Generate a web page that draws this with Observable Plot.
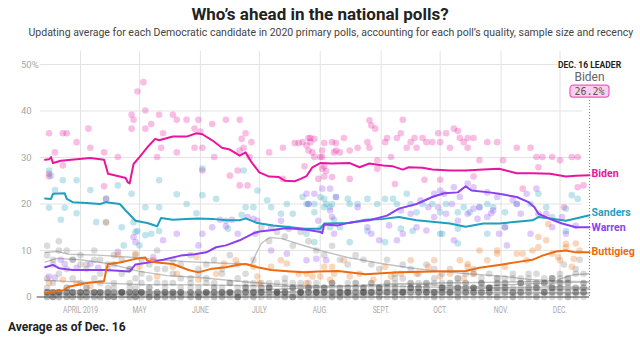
<!DOCTYPE html>
<html><head><meta charset="utf-8">
<script src="https://cdn.jsdelivr.net/npm/d3@7"></script>
<script src="https://cdn.jsdelivr.net/npm/@observablehq/plot@0.6"></script>
<style>
body{margin:0;background:#fff;}
#wrap{position:relative;width:640px;height:337px;overflow:hidden;font-family:Roboto,"Liberation Sans",sans-serif;}
#title{position:absolute;left:0;width:640px;top:3px;text-align:center;font-weight:700;font-size:17px;line-height:22px;color:#222;white-space:nowrap;}
#sub{position:absolute;left:0;width:640px;top:25px;text-align:center;font-size:11.5px;line-height:14px;color:#444;white-space:nowrap;}
#sub span,#title span{display:inline-block;transform-origin:50% 50%;}
#chart{position:absolute;left:0;top:42px;}
#cap{position:absolute;left:8px;top:319px;font-weight:700;font-size:12px;line-height:16px;color:#222;white-space:nowrap;}
</style></head>
<body><div id="wrap">
<div id="title"><span>Who’s ahead in the national polls?</span></div>
<div id="sub"><span>Updating average for each Democratic candidate in 2020 primary polls, accounting for each poll’s quality, sample size and recency</span></div>
<div id="chart"></div>
<div id="cap">Average as of Dec. 16</div>
</div>
<script>
// ---------- DATA ----------
const monthTicks = ["04-01","05-01","06-01","07-01","08-01","09-01","10-01","11-01","12-01"];
const monthLabels = ["APRIL 2019","MAY","JUNE","JULY","AUG.","SEPT.","OCT.","NOV.","DEC."];
const yTicks = [0,10,20,30,40,50];

const candidates = ["Biden","Sanders","Warren","Buttigieg"];
const colors = ["#e8159f","#1f9fbf","#8b3ff2","#ee6a0f"];
const labelNudge = [0, -1, 1, 0];

const bidenAvg = [["03-14",29.5],["03-16",29.6],["03-17",30.1],["03-18",28.8],["03-22",29.3],["03-30",29.6],["04-06",29.9],["04-13",29.5],["04-15",26.5],["04-21",25.9],["04-24",25.6],["04-25",24.7],["04-26",24.4],["04-28",28.6],["05-01",30.1],["05-05",32.2],["05-09",34.0],["05-11",33.7],["05-18",34.5],["05-25",34.5],["05-30",35.2],["06-02",35.0],["06-07",33.7],["06-12",32.1],["06-16",31.7],["06-21",30.4],["06-24",31.1],["06-27",29.0],["07-01",26.8],["07-06",25.9],["07-11",25.8],["07-14",25.0],["07-19",24.9],["07-22",25.4],["07-25",26.0],["07-28",27.9],["08-01",28.8],["08-07",28.7],["08-16",28.8],["08-21",27.9],["08-26",28.7],["09-02",28.3],["09-07",28.1],["09-12",27.4],["09-15",27.9],["09-22",27.8],["09-27",27.4],["10-06",27.2],["10-14",27.2],["10-23",27.4],["10-31",27.6],["11-09",26.6],["11-17",26.6],["11-26",26.5],["12-04",25.9],["12-09",26.1],["12-16",26.2]];
const sandersAvg = [["03-14",21.2],["03-17",21.1],["03-18",22.2],["03-24",22.3],["03-25",21.1],["03-28",20.4],["04-04",20.2],["04-11",20.0],["04-14",20.4],["04-21",20.0],["04-24",18.6],["04-29",16.4],["05-05",15.9],["05-10",15.2],["05-12",17.0],["05-18",16.6],["05-25",16.8],["05-31",16.9],["06-07",16.8],["06-14",16.5],["06-21",16.5],["06-24",16.9],["06-30",15.9],["07-08",15.4],["07-17",15.0],["07-24",14.7],["08-01",14.7],["08-03",15.8],["08-16",15.9],["08-24",16.6],["09-02",16.8],["09-10",17.2],["09-19",16.5],["09-27",16.2],["10-06",15.8],["10-14",15.1],["10-23",15.8],["10-31",15.8],["11-09",16.2],["11-17",16.5],["11-20",17.2],["11-26",16.9],["12-04",16.4],["12-09",16.9],["12-16",17.6]];
const warrenAvg = [["03-14",6.4],["03-18",6.9],["03-21",6.2],["03-28",5.8],["04-14",5.8],["04-26",5.5],["04-29",7.0],["05-07",7.5],["05-13",8.0],["05-22",8.9],["05-29",9.2],["06-04",9.6],["06-09",10.7],["06-14",11.1],["06-21",12.2],["06-28",13.7],["07-01",14.1],["07-08",14.4],["07-14",14.8],["07-19",14.7],["07-26",14.4],["08-01",14.0],["08-02",13.7],["08-03",15.6],["08-10",15.4],["08-16",16.0],["08-26",16.5],["09-04",17.5],["09-10",19.0],["09-19",20.0],["09-27",21.5],["10-03",22.3],["10-10",22.5],["10-14",23.8],["10-17",22.9],["10-26",22.5],["10-31",22.2],["11-09",21.5],["11-15",20.4],["11-18",19.3],["11-20",17.9],["11-27",16.6],["12-02",15.8],["12-09",15.0],["12-16",15.0]];
const buttigiegAvg = [["03-14",0.8],["03-20",1.3],["03-23",1.4],["03-26",2.2],["04-03",2.9],["04-06",3.1],["04-13",3.4],["04-14",5.7],["04-15",7.1],["04-21",7.4],["04-29",8.2],["05-04",8.5],["05-05",7.8],["05-10",7.4],["05-18",7.1],["05-26",5.8],["05-31",5.3],["06-07",6.1],["06-14",6.4],["06-21",7.0],["06-24",7.1],["06-30",6.4],["07-07",5.8],["07-17",5.5],["07-24",5.3],["07-31",5.5],["08-10",5.6],["08-24",4.9],["09-10",5.3],["09-27",5.5],["10-14",5.6],["10-21",6.3],["10-31",6.9],["11-09",7.5],["11-17",8.0],["11-22",8.9],["11-29",9.8],["12-04",10.0],["12-09",9.6],["12-16",9.6]];

const bidenDots = [["03-16",35.2],["03-23",35.2],["03-25",35.2],["03-19",31.1],["03-16",26.5],["03-16",25.9],["03-30",33.3],["04-05",36.2],["04-06",32.1],["03-23",28.3],["04-13",31.1],["04-13",23.8],["04-20",30.1],["04-14",21.1],["04-27",39.2],["04-28",38.1],["04-27",36.2],["04-30",44.2],["05-03",46.2],["05-04",40.1],["05-04",36.2],["05-07",37.2],["05-10",30.1],["05-11",39.2],["05-13",35.2],["05-12",32.1],["05-18",39.2],["05-20",38.1],["05-20",31.1],["05-25",38.1],["05-29",32.1],["05-29",36.2],["05-31",38.1],["06-01",35.6],["06-02",27.2],["06-07",37.2],["06-02",32.1],["06-08",30.1],["06-14",38.1],["06-16",26.1],["06-21",38.1],["06-21",31.5],["06-22",34.0],["06-24",35.2],["06-27",33.3],["06-23",32.1],["06-26",30.1],["06-25",24.0],["06-21",24.0],["06-20",27.2],["07-06",31.1],["07-13",32.1],["07-19",33.1],["07-21",33.1],["07-13",25.4],["07-25",32.6],["07-26",34.2],["07-26",31.5],["07-29",34.0],["07-29",30.1],["08-02",30.1],["08-03",33.1],["08-03",25.9],["08-04",27.1],["08-08",31.1],["08-09",33.1],["07-24",28.1],["08-03",28.1],["07-23",33.3],["07-27",33.3],["07-28",31.1],["07-27",34.2],["08-01",30.1],["08-02",31.5],["08-07",33.3],["08-09",31.5],["08-11",31.1],["08-13",34.2],["08-16",31.5],["08-20",32.1],["08-25",33.3],["08-26",38.0],["08-27",36.9],["08-29",36.2],["08-26",32.1],["08-30",29.4],["09-03",33.3],["09-04",34.2],["09-06",30.1],["09-09",34.2],["09-12",38.1],["09-11",35.2],["09-14",32.1],["09-16",33.3],["09-18",34.2],["09-19",32.1],["09-22",34.2],["09-24",33.3],["09-27",33.3],["09-30",35.2],["10-01",33.3],["10-04",35.2],["10-06",32.1],["10-08",36.2],["10-10",35.7],["10-11",34.2],["10-13",33.3],["10-15",34.2],["10-15",32.1],["10-18",34.2],["10-21",29.4],["10-25",33.3],["10-30",33.3],["11-02",29.4],["11-09",32.1],["11-16",32.1],["11-19",30.1],["11-22",30.1],["11-27",30.1],["12-01",29.4],["12-07",30.1],["12-10",30.1],["11-12",23.3],["09-23",25.2],["10-01",25.2],["10-18",25.9],["08-30",27.6],["09-08",24.3],["08-07",25.8],["08-16",25.4],["08-02",27.6],["07-31",25.4],["12-10",23.6],["11-20",27.9],["12-13",24.0],["12-03",19.3]];
const sandersDots = [["03-16",27.2],["03-17",26.1],["03-16",19.2],["03-19",23.0],["03-23",25.1],["03-24",19.2],["03-22",16.6],["03-30",25.1],["03-30",18.0],["04-06",23.0],["04-09",16.1],["04-14",21.1],["04-14",16.1],["04-22",15.0],["04-20",24.0],["04-27",22.2],["04-28",16.1],["04-29",14.0],["04-30",14.2],["05-04",13.3],["05-04",19.3],["05-11",25.1],["05-11",19.3],["05-11",14.2],["05-20",22.1],["05-25",20.0],["05-30",18.0],["06-02",27.6],["06-02",21.9],["06-09",21.1],["06-14",16.4],["06-15",14.7],["06-22",17.7],["06-23",27.2],["06-24",19.3],["06-28",19.3],["06-30",22.9],["07-05",20.8],["07-07",19.3],["07-12",17.9],["07-15",20.0],["07-18",17.9],["07-26",20.0],["07-29",18.2],["08-03",19.3],["08-03",21.1],["08-06",19.3],["08-08",16.6],["08-06",15.0],["05-01",11.1],["04-23",11.1],["05-07",13.6],["07-23",21.5],["07-25",20.0],["07-29",20.0],["08-01",21.5],["08-04",20.0],["08-07",20.0],["08-09",21.5],["08-15",21.1],["08-16",20.0],["08-20",20.0],["08-25",21.1],["08-30",20.0],["09-03",21.1],["09-07",21.1],["09-09",20.0],["09-14",22.2],["09-16",20.0],["09-19",18.2],["09-22",20.0],["09-27",20.0],["10-01",18.2],["10-04",20.0],["10-10",18.2],["10-13",19.3],["10-16",18.2],["10-21",19.3],["10-25",20.0],["10-28",19.3],["11-03",18.2],["11-09",20.0],["11-16",20.0],["11-20",22.2],["11-24",19.3],["11-27",17.2],["12-04",19.0],["12-07",21.9],["12-10",21.1],["12-04",14.2],["11-03",15.0],["10-25",13.6],["10-10",14.7],["10-01",13.6],["09-17",14.2],["09-11",14.7],["08-25",14.2],["08-11",15.0],["08-01",14.7],["07-25",13.6],["07-29",11.8],["08-16",11.8],["09-03",11.8],["10-02",13.6],["10-10",11.5]];
const warrenDots = [["03-16",4.4],["03-19",4.2],["03-22",8.0],["03-24",7.1],["03-30",6.3],["04-10",6.3],["04-06",7.1],["04-20",9.7],["04-28",12.9],["04-29",11.8],["05-08",8.6],["05-13",12.2],["05-20",13.6],["05-31",11.1],["06-02",13.6],["06-07",15.0],["06-11",16.6],["06-14",15.2],["06-17",16.6],["06-20",13.6],["06-25",17.2],["06-28",16.8],["06-30",16.4],["06-29",13.6],["07-07",15.0],["07-12",16.4],["07-16",14.7],["07-25",22.2],["07-26",20.0],["07-29",22.2],["07-31",16.4],["08-02",23.3],["08-06",18.6],["08-07",17.2],["08-08",13.6],["08-04",7.9],["07-25",7.9],["07-15",9.3],["07-07",10.0],["07-30",8.2],["08-06",23.3],["08-09",21.5],["08-20",19.3],["08-25",15.0],["08-27",13.6],["08-31",12.2],["09-05",15.4],["09-09",12.2],["09-11",18.6],["09-12",13.6],["09-16",17.9],["09-19",15.0],["09-24",14.3],["09-25",19.3],["09-28",17.2],["09-30",19.3],["10-03",22.2],["10-04",17.9],["10-07",20.0],["10-08",12.2],["10-10",16.4],["10-11",21.5],["10-15",17.9],["10-18",19.0],["10-21",19.3],["10-25",17.2],["10-28",18.6],["10-31",13.6],["11-03",15.0],["11-09",20.0],["11-11",17.9],["11-16",13.6],["11-19",23.3],["11-20",17.9],["11-24",17.9],["11-27",15.0],["12-02",17.2],["12-04",13.6],["12-09",15.3],["10-15",24.4],["10-18",23.6],["10-25",22.5],["10-30",21.5],["10-08",23.6],["10-01",22.9],["11-07",20.8],["11-14",22.2],["09-21",20.8],["09-28",22.2],["11-04",11.1],["10-20",16.8],["10-27",18.0]];
const buttigiegDots = [["04-14",16.0],["04-20",9.0],["04-29",9.3],["05-01",6.5],["05-08",7.9],["05-10",4.4],["05-18",6.5],["05-20",5.0],["05-30",8.6],["05-31",3.7],["06-09",5.0],["06-13",7.2],["06-19",7.9],["06-28",6.5],["06-30",4.4],["07-01",3.0],["07-07",6.5],["07-12",7.9],["07-15",7.2],["07-21",5.0],["07-25",3.0],["07-28",4.4],["08-03",6.5],["08-06",3.7],["08-08",5.0],["03-16",3.0],["03-23",3.7],["03-30",3.0],["04-06",2.3],["07-25",5.0],["08-01",4.4],["08-07",6.5],["08-13",7.9],["08-16",4.4],["08-21",5.0],["08-28",3.7],["09-03",6.5],["09-06",4.4],["09-11",5.0],["09-16",7.9],["09-19",5.0],["09-25",6.5],["09-28",7.9],["10-01",4.4],["10-06",5.0],["10-11",7.9],["10-15",6.5],["10-18",5.0],["10-25",7.9],["10-30",9.3],["11-03",6.5],["11-09",9.3],["11-14",7.9],["11-17",10.0],["11-20",10.7],["11-24",12.2],["11-27",9.3],["12-01",7.9],["12-04",10.7],["12-09",11.5],["12-07",6.5],["10-21",10.0],["10-30",10.0],["11-12",9.3],["11-20",12.9],["11-25",15.7],["11-30",8.6],["12-04",11.4],["12-08",8.2],["12-11",10.0],["10-15",7.1],["10-13",4.0]];

// other candidates: averages
const harrisAvg = [["03-14",9.6],["03-20",9.8],["03-26",9.2],["04-10",9.0],["04-25",8.6],["05-10",8.0],["05-25",7.6],["06-10",7.3],["06-27",7.0],["06-29",9.0],["07-02",11.5],["07-06",12.8],["07-12",12.6],["07-21",11.4],["08-01",10.0],["08-15",8.5],["09-01",7.2],["09-15",6.3],["10-01",5.5],["10-15",5.0],["11-01",4.5],["11-15",3.8],["12-02",3.4]];
const orourkeAvg = [["03-14",7.5],["03-20",8.3],["04-01",8.0],["04-15",7.2],["05-01",5.5],["05-15",4.6],["06-01",4.2],["06-15",3.6],["07-01",3.0],["07-15",2.6],["08-01",2.4],["08-15",2.4],["09-01",2.6],["09-15",2.9],["10-01",2.5],["10-15",2.1],["11-01",1.9]];
const bookerAvg = [["03-14",3.6],["04-01",3.2],["05-01",2.7],["06-01",2.6],["07-01",2.4],["08-01",2.2],["09-01",2.4],["10-01",2.1],["11-01",2.0],["12-01",2.2],["12-16",2.0]];
const yangAvg = [["03-14",0.5],["04-01",0.7],["05-01",0.9],["06-01",1.0],["07-01",1.5],["08-01",2.1],["09-01",2.7],["10-01",3.0],["11-01",3.2],["12-01",3.4],["12-16",3.3]];
const klobucharAvg = [["03-14",1.5],["04-01",1.3],["05-01",1.2],["06-01",1.1],["07-01",1.0],["08-01",1.0],["09-01",1.1],["10-01",1.6],["11-01",2.6],["12-01",3.1],["12-16",3.2]];
const bloombergAvg = [["11-24",2.2],["12-01",3.9],["12-08",4.8],["12-16",5.0]];
const gabbardAvg = [["03-14",0.8],["05-01",0.8],["07-01",1.0],["08-01",1.3],["10-01",1.6],["11-01",2.0],["12-01",1.9],["12-16",1.8]];
const castroAvg = [["03-14",0.6],["06-01",0.8],["07-01",1.1],["09-01",1.0],["11-01",1.0],["12-16",0.9]];
const steyerAvg = [["07-09",0.4],["09-01",0.8],["10-01",1.2],["11-01",1.5],["12-16",1.6]];
const gillibrandAvg = [["03-14",0.8],["06-01",0.6],["08-28",0.4]];
const insleeAvg = [["03-14",0.5],["08-21",0.6]];
const hickenlooperAvg = [["03-14",0.6],["08-15",0.4]];
const bennetAvg = [["05-02",0.5],["12-16",0.7]];

// other candidates: individual poll results
const pollDates = ["03-15","03-18","03-21","03-25","03-28","04-01","04-04","04-08","04-11","04-15","04-18","04-22","04-26","04-29","05-02","05-06","05-10","05-14","05-18","05-22","05-27","05-31","06-04","06-08","06-12","06-16","06-20","06-24","06-28","07-02","07-06","07-10","07-14","07-18","07-22","07-26","07-30","08-03","08-07","08-11","08-15","08-19","08-23","08-27","08-31","09-04","09-08","09-12","09-16","09-20","09-24","09-28","10-02","10-06","10-10","10-14","10-18","10-22","10-26","10-30","11-03","11-07","11-11","11-15","11-19","11-23","11-27","12-01","12-05","12-09","12-13"];
const harrisPolls = [11,8,12,10,8, 9,7,10,8,7,9,8,6,9, 8,7,10,6,8,7,9,6, 7,8,6,9,7,5,8, 15,12,14,13,11,14,12,10, 9,11,8,7,9,8,7,6, 8,5,7,6,5,7,6, 5,6,4,5,6,4,5,4, 4,5,3,4,5,3,4, 3,null,null,null];
const orourkePolls = [9,7,10,6,8, 7,6,8,5,6,7,5,6,4, 5,4,6,3,5,4,3,5, 4,3,5,3,4,2,3, 3,2,3,4,2,3,2,3, 2,3,2,3,2,1,3,2, 3,4,2,3,3,2,3, 2,3,2,1,2,3,2,2, null,null,null,null,null,null,null, null,null,null,null];
const bookerPolls = [4,3,5,2,4, 3,2,4,3,2,3,1,3,2, 3,2,3,1,3,2,4,2, 3,2,1,3,2,3,2, 2,3,1,3,2,2,3,1, 2,3,1,2,3,2,1,2, 2,3,1,2,2,3,1, 2,1,3,2,2,1,2,3, 2,1,3,2,2,1,2, 2,3,1,2];
const yangPolls = [0,1,0,1,1, 1,0,1,1,0,1,1,2,0, 1,1,0,2,1,1,0,1, 1,2,1,1,0,2,1, 2,1,1,2,3,1,2,1, 2,3,1,2,3,2,3,2, 3,2,4,3,2,3,4, 3,2,4,3,5,3,2,4, 3,4,2,5,3,4,3, 4,3,5,3];
const klobucharPolls = [2,1,1,2,1, 1,2,1,1,0,2,1,1,1, 1,2,1,0,1,1,2,1, 1,1,2,1,0,1,1, 1,2,1,1,0,1,1,2, 1,1,2,1,0,1,1,1, 1,2,1,1,2,1,1, 2,1,2,3,1,2,2,3, 3,2,4,3,2,3,4, 3,4,2,3];
const gabbardPolls = [1,0,1,1,0, 1,1,0,1,1,0,1,1,0, 1,0,1,1,0,1,1,0, 1,1,0,1,1,2,1, 1,2,1,1,2,1,1,2, 1,2,1,1,2,1,2,1, 2,1,1,2,1,2,1, 2,3,1,2,2,3,1,2, 2,1,3,2,2,1,2, 2,1,2,2];
const castroPolls = [1,0,1,0,1, 0,1,1,0,1,0,1,0,1, 1,0,0,1,1,0,1,0, 1,0,1,1,0,1,0, 1,2,1,1,0,1,2,1, 1,1,0,1,1,2,1,0, 1,0,1,2,1,1,0, 1,1,0,1,2,1,1,0, 1,0,1,1,0,1,1, 1,0,1,1];
const minorPollsA = [0,1,0,0,1, 1,0,0,1,0,1,0,0,1, 0,1,0,0,1,0,1,0, 0,0,1,0,1,0,0, 1,0,1,0,0,1,0,1, 0,1,0,0,1,0,1,0, 1,0,0,1,0,1,0, 0,1,0,1,0,0,1,0, 1,0,1,0,0,1,0, 0,1,0,1];
const minorPollsB = [1,0,1,1,0, 0,1,1,0,1,0,1,1,0, 1,0,1,1,0,1,0,1, 1,1,0,1,0,1,1, 0,1,0,1,1,0,1,0, 1,0,1,1,0,1,0,1, 0,1,1,0,1,0,1, 1,0,1,0,1,1,0,1, 0,1,0,1,1,0,1, 1,0,1,0];
const steyerDots = [["07-14",0],["07-22",1],["07-30",1],["08-07",0],["08-15",1],["08-23",1],["08-31",2],["09-08",1],["09-16",2],["09-24",1],["10-02",1],["10-10",2],["10-18",1],["10-26",2],["11-03",2],["11-11",1],["11-19",3],["11-27",2],["12-05",2],["12-13",1]];
const bloombergDots = [["11-23",3],["11-27",4],["12-01",5],["12-03",7],["12-05",4],["12-09",6],["12-11",8],["12-13",5]];

// ---------- BUILD ----------
const D = s => new Date(`2019-${s}T00:00:00Z`);
const mainAvgs = [bidenAvg, sandersAvg, warrenAvg, buttigiegAvg];
const mainDots = [bidenDots, sandersDots, warrenDots, buttigiegDots];
const otherAvgs = [harrisAvg, orourkeAvg, bookerAvg, yangAvg, klobucharAvg, bloombergAvg, gabbardAvg, castroAvg, steyerAvg, gillibrandAvg, insleeAvg, hickenlooperAvg, bennetAvg];
const otherPolls = [harrisPolls, orourkePolls, bookerPolls, yangPolls, klobucharPolls, gabbardPolls, castroPolls, minorPollsA, minorPollsB];

const grayLinePts = otherAvgs.flatMap((arr, k) => arr.map(([d, v]) => ({date: D(d), value: v, k})));
const grayDotPts = otherPolls.flatMap(arr => arr.map((v, i) => ({date: D(pollDates[i]), value: v})).filter(p => p.value != null))
  .concat(steyerDots.concat(bloombergDots).map(([d, v]) => ({date: D(d), value: v})));

const marks = [];
// grid
marks.push(Plot.ruleY(yTicks.filter(t => t > 0), {y: d => d, stroke: "#e3e3e3", strokeWidth: 1, insetLeft: -1, insetRight: 7}));
marks.push(Plot.ruleX(monthTicks.map(D), {x: d => d, stroke: "#e3e3e3", strokeWidth: 1, insetTop: -13, insetBottom: -4}));
// y labels
marks.push(Plot.text(yTicks, {y: d => d, text: d => String(d), frameAnchor: "left", dx: -9.5, textAnchor: "end", fill: "#a6a6a6", fontSize: 9.5}));
marks.push(Plot.text(yTicks.filter(t => t === 50), {y: d => d, text: () => "%", frameAnchor: "left", dx: -9.5, textAnchor: "start", fill: "#a6a6a6", fontSize: 9.5}));
// x labels
marks.push(Plot.text(monthTicks.map((m, i) => ({date: D(m), label: monthLabels[i]})), {x: "date", text: "label", frameAnchor: "bottom", lineAnchor: "middle", dy: 13.5, fill: "#a9a9a9", fontSize: 9, className: "xlab"}));
// other candidates
marks.push(Plot.line(grayLinePts, {x: "date", y: "value", z: "k", stroke: "#c2c2c2", strokeWidth: 1.4}));
marks.push(Plot.dot(grayDotPts, {x: "date", y: "value", r: 3.3, fill: "#3a3a3a", fillOpacity: 0.18}));
// main candidate dots
mainDots.forEach((arr, i) => {
  marks.push(Plot.dot(arr.map(([d, v]) => ({date: D(d), value: v})), {x: "date", y: "value", r: 3.3, fill: colors[i], fillOpacity: 0.28}));
});
// baseline
marks.push(Plot.ruleY([0], {y: d => d, stroke: "#444", strokeWidth: 1, insetLeft: -4}));
// leader dotted line
const lastDate = D(bidenAvg[bidenAvg.length - 1][0]);
marks.push(Plot.ruleX([lastDate], {x: d => d, stroke: "#888", strokeWidth: 1, strokeDasharray: "1,2", insetTop: 33}));
// main lines
mainAvgs.forEach((arr, i) => {
  marks.push(Plot.line(arr.map(([d, v]) => ({date: D(d), value: v})), {x: "date", y: "value", stroke: colors[i], strokeWidth: 2}));
});
// end labels
mainAvgs.forEach((arr, i) => {
  const [d, v] = arr[arr.length - 1];
  marks.push(Plot.text([{date: D(d), value: v}], {x: "date", y: "value", text: () => candidates[i], fill: colors[i], dx: 2, dy: -1.5 + labelNudge[i], textAnchor: "start", fontWeight: 700, fontSize: 11.8, className: "endlab"}));
});
// leader annotation
const leaderVal = bidenAvg[bidenAvg.length - 1][1];
marks.push(Plot.text([lastDate], {x: d => d, frameAnchor: "top", lineAnchor: "middle", dy: 0.5, text: () => "DEC. 16 LEADER", fontWeight: 700, fontSize: 8.5, fill: "#222", stroke: "white", strokeWidth: 3}));
marks.push(Plot.text([lastDate], {x: d => d, frameAnchor: "top", lineAnchor: "middle", dy: 12.7, text: () => candidates[0], fontSize: 12, fill: "#666"}));
marks.push(Plot.text([lastDate], {x: d => d, frameAnchor: "top", lineAnchor: "middle", dy: 27, text: () => leaderVal.toFixed(1) + "%", fontSize: 10, fill: "#555", fontFamily: "DejaVu Sans Mono, monospace", className: "leadval"}));

const chart = Plot.plot({
  width: 640, height: 280,
  marginLeft: 40.7, marginRight: 51, marginTop: 22, marginBottom: 25.5,
  style: {fontFamily: "Roboto, 'Liberation Sans', sans-serif", background: "transparent", overflow: "visible"},
  x: {type: "utc", domain: [D("03-12"), D("12-16")], axis: null},
  y: {domain: [0, 50], axis: null},
  marks
});
document.getElementById("chart").appendChild(chart);

// ---------- post layout ----------
const sub = document.querySelector("#sub span");
sub.style.transform = `scaleX(${605 / sub.offsetWidth})`;

function condense(sel, factor) {
  chart.querySelectorAll(sel).forEach(t => {
    const L = t.getComputedTextLength();
    t.setAttribute("textLength", (L * factor).toFixed(1));
    t.setAttribute("lengthAdjust", "spacingAndGlyphs");
  });
}
let ref = 1;
chart.querySelectorAll(".xlab text").forEach(t => { if (t.textContent === monthLabels[0]) ref = t.getComputedTextLength(); });
condense(".xlab text", 35 / ref);
condense(".endlab text", 0.9);

// box around leader value
const vt = chart.querySelector(".leadval text");
if (vt) {
  const bb = vt.getBBox();
  const cx = bb.x + bb.width / 2, cy = bb.y + bb.height / 2;
  const r = document.createElementNS("http://www.w3.org/2000/svg", "rect");
  r.setAttribute("x", cx - 19.5); r.setAttribute("y", cy - 6);
  r.setAttribute("width", 39); r.setAttribute("height", 12);
  r.setAttribute("rx", 3);
  if (vt.getAttribute("transform")) r.setAttribute("transform", vt.getAttribute("transform"));
  r.setAttribute("fill", "#fbd0ef"); r.setAttribute("stroke", "#ea5cc4"); r.setAttribute("stroke-width", 1.2);
  vt.parentNode.insertBefore(r, vt);
}
</script>
</body></html>
